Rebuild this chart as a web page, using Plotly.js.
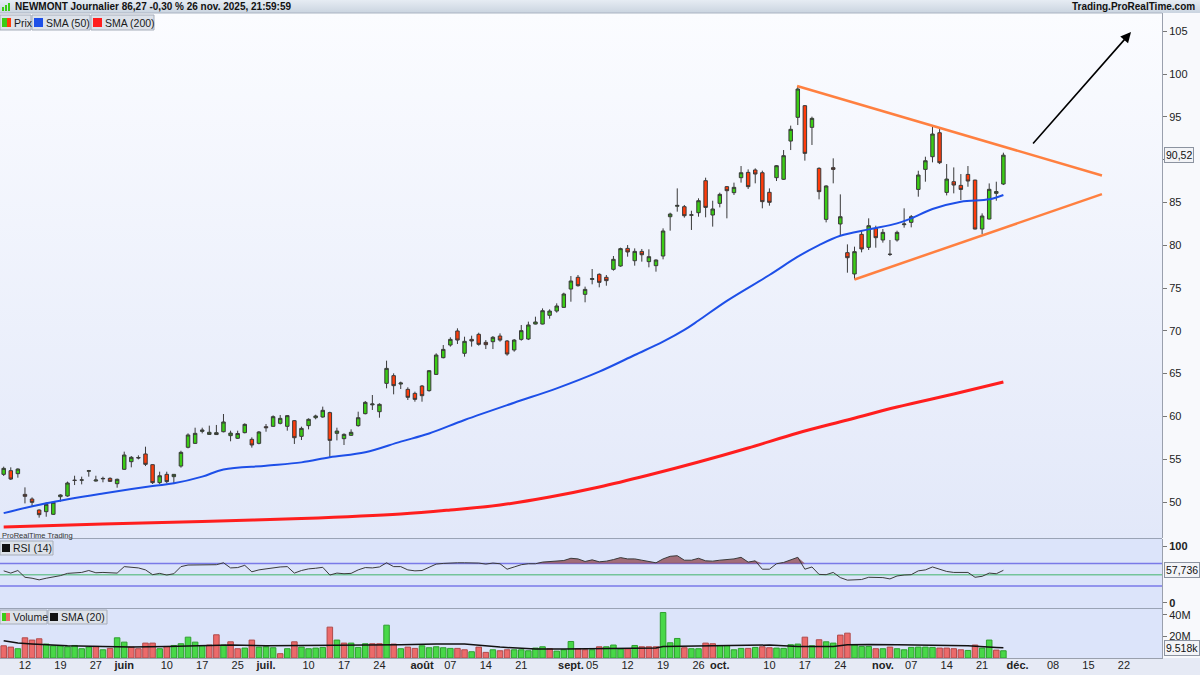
<!DOCTYPE html>
<html><head><meta charset="utf-8">
<script src="https://cdn.plot.ly/plotly-3.0.1.min.js"></script>
<style>
body{margin:0;background:#fff}
#wrap{position:relative;width:1200px;height:675px;overflow:hidden;background:#f8f9fc}
.bg{position:absolute}
#chart{position:absolute;left:0;top:0;width:1200px;height:675px}
</style></head>
<body><div id="wrap">
<div class="bg" style="left:0;top:0;width:1200px;height:13px;background:linear-gradient(#e6ecf3,#cad4e0)"></div>
<div class="bg" style="left:0;top:13px;width:1162px;height:526px;background:linear-gradient(#fbfcff,#e2e8f9)"></div>
<div class="bg" style="left:0;top:539px;width:1162px;height:119px;background:#dce4fa"></div>
<div class="bg" style="left:0;top:658px;width:1200px;height:17px;background:#e6eaf5"></div>
<div id="chart"></div>
</div>
<script>
// ---------- DATA ----------
const firstDay = '2025-05-07';
const lastDay = '2025-12-31';
const holidays = ['2025-05-26','2025-06-19','2025-07-04','2025-09-01','2025-11-27','2025-12-25'];

const open = [53.23,53.66,53.31,50.89,50.35,49.06,48.87,48.56,50.62,50.70,
52.55,52.55,53.60,52.45,52.70,52.76,52.14,53.82,54.71,55.20,
55.61,54.36,52.26,53.23,52.96,54.20,56.39,56.85,58.25,57.90,
57.88,58.21,57.75,57.44,58.10,57.32,56.85,58.80,58.84,59.19,
58.84,59.50,57.67,58.92,59.85,59.93,60.44,58.02,57.40,57.79,
58.92,60.32,61.35,60.55,63.86,64.76,63.78,63.16,62.69,63.55,
63.01,64.91,66.86,68.34,69.98,67.37,69.00,69.59,68.65,68.73,
69.39,68.81,67.76,69.00,69.04,70.79,70.79,71.81,72.31,72.74,
74.88,76.25,74.26,76.00,76.60,76.25,77.18,77.57,79.63,78.19,
79.28,78.08,77.61,78.74,83.33,84.55,84.50,83.50,83.80,87.54,
83.53,84.89,86.84,86.14,87.89,88.51,88.79,88.47,86.18,87.89,
87.70,92.17,94.94,96.30,93.77,88.98,83.02,89.06,82.48,79.13,
76.64,81.27,79.75,81.97,80.61,78.95,80.61,82.40,82.67,86.52,
88.86,90.34,93.14,86.17,87.42,86.99,88.27,87.61,81.89,83.06,
86.06,87.15];
const high = [54.13,54.05,53.93,51.71,50.54,49.14,49.96,50.04,50.90,52.38,
53.07,52.96,53.74,53.07,52.96,52.88,52.73,55.88,55.37,55.45,
56.46,54.40,53.54,53.54,53.27,55.99,58.02,58.68,58.68,58.92,
59.00,60.28,58.33,58.33,59.19,57.55,58.29,59.11,60.12,60.16,
60.16,59.58,58.80,59.77,60.20,61.14,60.55,58.68,58.02,58.49,
60.55,61.80,62.50,61.53,66.51,65.03,64.06,63.40,62.89,63.67,
65.42,67.37,68.34,69.24,70.29,69.31,69.43,69.78,68.92,69.39,
69.70,68.92,69.04,70.68,71.07,71.65,72.62,72.51,73.21,74.45,
76.40,76.52,75.16,77.22,76.71,76.52,78.74,79.71,80.02,79.63,
79.56,79.52,78.35,81.97,83.80,86.64,84.70,84.03,85.48,87.89,
85.20,86.14,86.92,87.31,89.25,88.86,88.98,88.71,86.64,89.37,
91.12,93.97,98.60,96.38,95.02,89.10,87.00,90.15,85.94,80.10,
79.83,81.70,83.14,82.28,81.89,80.61,81.70,84.31,83.53,88.70,
90.34,93.84,93.65,89.48,89.09,88.31,89.25,87.65,83.72,87.22,
87.42,90.81];
const low = [53.04,52.57,52.84,49.84,49.53,48.17,48.28,48.48,50.04,50.62,
51.98,52.06,52.96,52.38,52.30,52.34,51.67,53.74,54.05,54.98,
54.20,52.10,52.10,52.18,52.18,54.01,56.27,56.78,58.02,57.83,
57.83,58.14,57.09,57.36,58.02,56.35,56.74,58.21,58.80,59.07,
58.33,56.78,57.24,58.49,59.66,59.85,55.22,57.20,56.66,57.71,
58.80,60.24,60.75,59.85,63.28,62.58,63.20,61.92,61.72,61.72,
62.89,64.84,66.78,68.15,68.46,66.98,68.15,68.26,67.87,67.87,
68.73,67.09,67.56,68.85,68.92,70.75,70.75,71.42,72.12,72.70,
73.40,75.16,73.33,75.43,75.08,75.27,77.03,77.49,78.66,77.61,
78.08,77.42,76.91,78.35,81.70,83.92,83.22,81.78,83.33,83.26,
82.17,84.42,83.14,85.87,87.31,86.57,87.23,84.31,84.62,87.50,
87.62,91.12,94.04,89.88,91.71,85.36,82.67,87.23,81.11,76.79,
76.01,79.17,79.44,79.71,80.30,78.74,80.42,82.05,82.09,85.67,
87.42,89.68,89.48,85.82,86.06,85.28,86.83,81.85,81.30,83.02,
85.20,87.03];
const close = [53.93,52.68,53.85,50.66,49.96,48.52,49.73,49.96,50.82,52.22,
52.52,52.58,53.65,52.57,52.75,52.41,52.65,55.49,55.22,55.15,
54.40,52.26,53.07,52.38,53.23,55.80,57.83,58.02,58.41,58.14,
58.10,59.35,58.05,58.00,59.07,56.66,58.18,58.68,59.97,59.77,
60.09,57.51,58.60,59.66,60.05,60.71,57.20,58.29,57.90,58.14,
59.85,61.64,61.45,61.41,65.61,63.59,63.90,62.23,61.99,62.42,
65.34,67.17,67.83,69.00,68.92,68.77,68.81,68.42,68.38,69.24,
68.92,67.29,68.92,70.02,70.68,71.03,72.35,72.31,72.90,74.30,
75.82,75.27,74.84,76.10,75.66,75.86,78.35,79.60,79.21,79.28,
78.89,78.66,78.27,81.66,83.64,84.65,83.45,83.55,85.20,84.42,
84.23,85.94,86.37,86.76,88.47,86.84,88.32,85.09,85.01,89.29,
90.46,93.54,98.25,90.73,94.82,86.26,86.92,88.86,83.33,78.54,
79.25,79.56,82.28,80.88,81.50,78.93,81.50,82.48,83.33,88.20,
89.87,92.99,89.64,87.73,87.03,86.52,87.50,81.89,83.41,86.53,
86.27,90.52];
const closeBeforeFirst = 54.30;
// volume in millions
const volume = [11.3,10.1,8.6,18.7,16.6,17.8,12.9,11.3,11.3,10.4,
11.6,8.6,10.1,10.7,7.6,8.9,18.7,14.7,10.1,8.6,
13.8,13.8,8.6,10.7,11.6,13.2,19.3,14.7,11.6,12.0,
21.5,12.0,15.0,8.6,9.2,16.6,10.1,10.4,9.5,4.0,
8.6,15.0,10.1,8.6,9.2,9.8,28.6,16.6,13.8,13.8,
9.8,13.2,13.2,13.2,30.4,12.9,8.6,10.1,8.9,11.3,
9.5,10.4,9.5,8.9,8.9,7.6,5.8,10.1,5.2,7.6,
6.7,7.6,7.6,7.6,6.7,9.2,10.4,8.6,6.4,7.6,
15.3,8.6,7.6,7.6,10.4,10.4,12.0,8.3,8.6,11.6,
10.4,10.4,10.4,42.1,14.1,18.1,9.5,8.6,8.6,13.8,
13.2,11.6,11.6,7.6,8.9,8.9,9.8,10.4,9.5,9.2,
8.9,12.3,12.9,19.3,11.3,16.9,15.0,13.8,21.2,23.0,
12.3,10.7,10.7,8.6,8.6,10.1,8.6,7.6,9.8,10.1,
10.1,9.8,9.2,9.2,8.6,7.6,7.0,12.0,9.2,16.6,
7.3,6.7];
const rsi = [56.8,52.8,57.4,45.4,43.7,40.8,43.7,45.4,48.3,52.3,
53.4,54.0,57.4,53.4,54.0,53.4,52.8,64.3,62.6,62.0,
58.5,50.0,52.3,49.4,51.7,64.3,67.1,67.1,67.7,67.1,
67.7,71.1,62.0,62.6,66.6,55.1,58.5,60.3,62.6,63.7,
64.3,52.8,57.4,60.3,61.4,63.1,49.4,52.8,51.7,52.3,
58.5,62.6,62.0,63.7,71.1,64.3,64.3,58.5,56.8,57.4,
63.1,68.8,70.0,71.1,71.1,71.1,71.1,70.6,68.8,70.6,
69.4,59.7,63.7,67.7,69.4,69.4,72.3,73.4,74.0,75.1,
79.1,78.0,73.4,76.3,72.8,74.0,76.8,80.3,78.0,78.0,
75.7,74.0,71.1,78.0,82.6,83.7,75.7,75.7,79.1,74.6,
74.0,75.7,76.3,78.0,80.8,72.3,74.6,59.7,59.7,69.4,
71.7,75.7,80.8,59.7,63.7,50.5,50.0,54.0,44.8,40.3,
40.8,41.4,45.4,44.8,44.8,42.5,47.7,49.4,50.0,56.8,
58.5,63.7,59.7,55.7,54.0,53.4,54.0,45.4,47.1,52.8,
51.7,57.7];
// moving averages (bar index, value)
const sma50Idx = [0,6,14,21,24,28,31,37,42,46,51,56,60,65,72,78,84,89,93,96,98,102,108,112,115,118,122,126,128,131,135,139,141];
const sma50Val = [48.7,49.85,51.0,51.87,52.18,52.96,53.8,54.24,54.63,55.22,55.8,57.05,58.0,59.58,61.6,63.28,65.23,67.17,68.73,70.1,71.2,73.5,76.52,78.66,80.02,81.11,81.85,82.55,83.14,84.23,85.09,85.36,85.87];
const sma200Idx = [0,14,28,42,56,63,70,77,84,91,98,105,112,119,126,134,141];
const sma200Val = [47.08,47.43,47.72,48.07,48.6,49.07,49.65,50.58,51.75,53.15,54.67,56.31,58.06,59.58,61.1,62.62,64.02];
const volSmaIdx = [0,2,4,7,9,14,18,23,28,32,37,42,47,51,56,61,65,70,75,79,84,89,92,93,98,103,108,112,117,119,122,126,131,136,140,141];
const volSmaVal = [15.9,13.8,12.9,11.6,11.3,10.7,10.1,10.7,11.3,12.0,11.3,11.6,11.6,11.6,12.2,12.9,12.9,10.1,8.3,8.3,8.9,9.2,9.2,10.7,11.3,11.3,12.0,10.7,10.7,12.3,12.6,12.3,12.0,11.3,9.8,9.5];
// triangle trend lines and arrow (bar index, price)
const upperLineIdx = [111.9,154.9], upperLineVal = [98.6,88.15];
const lowerLineIdx = [120.0,154.9], lowerLineVal = [76.0,85.97];
const arrowFrom = [145.0,91.7], arrowTo = [159.0,104.9];
// x-axis ticks
const tickDates = ['2025-05-12','2025-05-19','2025-05-27','2025-06-02','2025-06-10','2025-06-17','2025-06-25','2025-07-01','2025-07-10','2025-07-17','2025-07-24','2025-08-01','2025-08-07','2025-08-14','2025-08-21','2025-09-02','2025-09-05','2025-09-12','2025-09-19','2025-09-26','2025-10-01','2025-10-10','2025-10-17','2025-10-24','2025-11-03','2025-11-07','2025-11-14','2025-11-21','2025-12-01','2025-12-08','2025-12-15','2025-12-22'];
const tickLabels = ['12','19','27','<b>juin</b>','10','17','25','<b>juil.</b>','10','17','24','<b>août</b>','07','14','21','<b>sept.</b>','05','12','19','26','<b>oct.</b>','10','17','24','<b>nov.</b>','07','14','21','<b>déc.</b>','08','15','22'];
const priceTicks = [50,55,60,65,70,75,80,85,90,95,100,105];

// ---------- BUILD ----------
const tradingDays = [];
for (let d = new Date(firstDay+'T00:00:00Z'); d <= new Date(lastDay+'T00:00:00Z'); d.setUTCDate(d.getUTCDate()+1)) {
  const s = d.toISOString().slice(0,10), wd = d.getUTCDay();
  if (wd !== 0 && wd !== 6 && holidays.indexOf(s) < 0) tradingDays.push(s);
}
const idx = open.map((_, i) => i);
const tickVals = tickDates.map(s => tradingDays.indexOf(s));
const volUp = close.map((c, i) => c >= (i === 0 ? closeBeforeFirst : close[i-1]));
const volColor = volUp.map(u => u ? '#48d848' : '#ec6a6a');
const volLine = volUp.map(u => u ? '#2f9f2f' : '#b04a4a');
const rsiTop = rsi.map(v => Math.max(v, 70));
const rsiBase = rsi.map(() => 70);
const lastClose = close[close.length-1];
// the last-price tag covers the nearest price tick label, as in the original
const priceTickText = priceTicks.map(v => Math.abs(v - lastClose) < 2 ? '' : String(v));

const W = 1162, PB = 658, PH = 645;
const P = x => x / W, Q = y => (PB - y) / PH;
const FONT = '"Liberation Sans", Arial, sans-serif';

const traces = [
  {type:'scatter', mode:'lines', x:sma200Idx, y:sma200Val, line:{color:'#ff1e1e', width:3, shape:'spline'}, hoverinfo:'skip'},
  {type:'scatter', mode:'lines', x:sma50Idx, y:sma50Val, line:{color:'#1d4fe8', width:2, shape:'spline'}, hoverinfo:'skip'},
  {type:'candlestick', x:idx, open:open, high:high, low:low, close:close,
   increasing:{fillcolor:'#3acc14', line:{color:'#3a3a3a', width:1}},
   decreasing:{fillcolor:'#ff3c0a', line:{color:'#3a3a3a', width:1}},
   whiskerwidth:0, hoverinfo:'skip'},
  {type:'scatter', mode:'lines', x:upperLineIdx, y:upperLineVal, line:{color:'#ff8040', width:2.5}, hoverinfo:'skip'},
  {type:'scatter', mode:'lines', x:lowerLineIdx, y:lowerLineVal, line:{color:'#ff8040', width:2.5}, hoverinfo:'skip'},
  {type:'scatter', mode:'lines', x:idx, y:rsiBase, yaxis:'y2', line:{width:0, color:'rgba(0,0,0,0)'}, hoverinfo:'skip'},
  {type:'scatter', mode:'lines', x:idx, y:rsiTop, yaxis:'y2', fill:'tonexty', fillcolor:'rgba(140,62,70,0.72)', line:{width:0, color:'rgba(0,0,0,0)'}, hoverinfo:'skip'},
  {type:'scatter', mode:'lines', x:idx, y:rsi, yaxis:'y2', line:{color:'#3a3a3a', width:1}, hoverinfo:'skip'},
  {type:'bar', x:idx, y:volume, yaxis:'y3', width:0.78, marker:{color:volColor, line:{color:volLine, width:1}}, hoverinfo:'skip'},
  {type:'scatter', mode:'lines', x:volSmaIdx, y:volSmaVal, yaxis:'y3', line:{color:'#111', width:1.5}, hoverinfo:'skip'}
];

function rect(x0,y0,x1,y1,fill,line){
  return {type:'rect', xref:'paper', yref:'paper', x0:P(x0), x1:P(x1), y0:Q(y1), y1:Q(y0), fillcolor:fill, line:{color:line||fill, width:line?1:0}, layer:'above'};
}
function hline(y, color){ return {type:'line', xref:'paper', yref:'paper', x0:0, x1:1, y0:Q(y), y1:Q(y), line:{color:color, width:1}}; }
function rsiLevel(v, color){ return {type:'line', xref:'paper', yref:'y2', x0:0, x1:1, y0:v, y1:v, line:{color:color, width:1.5}, layer:'below'}; }

const shapes = [
  hline(538.5,'#9aa3b5'), hline(608.5,'#9aa3b5'), hline(13,'#aab3c2'),
  rsiLevel(70,'#7a7ae8'), rsiLevel(30,'#7a7ae8'), rsiLevel(50,'#74c49a'),
  // header icon
  rect(2,7,4,11,'#3acc14'), rect(5,5,7,11,'#3acc14'), rect(8,3,10,11,'#3acc14'),
  // legend boxes
  rect(0,15,31,30,'#dde2ea','#a6adba'), rect(2,18,7,27,'#3acc14'), rect(7,18,11,27,'#ff3c0a'),
  rect(32,15,90,30,'#dde2ea','#a6adba'), rect(34,18,43,27,'#1d4fe8'),
  rect(91,15,154,30,'#dde2ea','#a6adba'), rect(93,18,102,27,'#ff1e1e'),
  rect(0,541,53,555,'#dde2ea','#a6adba'), rect(2,544,10,552,'#111111'),
  rect(0,610,47,624,'#dde2ea','#a6adba'), rect(2,613,6,621,'#3acc14'), rect(6,613,10,621,'#ec6a6a'),
  rect(48,610,107,624,'#dde2ea','#a6adba'), rect(50,613,58,621,'#111111')
];

function txt(text, x, y, opts){
  return Object.assign({text:text, xref:'paper', yref:'paper', x:P(x), y:Q(y), xanchor:'left', yanchor:'middle', showarrow:false, borderpad:0, font:{family:FONT, size:10.5, color:'#1a1a1a'}}, opts||{});
}
function valueTag(text, yref, y){
  return {text:text, xref:'paper', yref:yref, x:P(1164), y:y, xanchor:'left', yanchor:'middle', showarrow:false,
    bgcolor:'#f3f4f7', bordercolor:'#8c93a0', borderwidth:1, borderpad:1, font:{family:FONT, size:10.5, color:'#111'}};
}
const annotations = [
  txt('<b>NEWMONT Journalier 86,27 -0,30 % 26 nov. 2025, 21:59:59</b>', 14, 6.5, {font:{family:FONT, size:10, color:'#111'}}),
  txt('<b>Trading.ProRealTime.com</b>', 1196, 6.5, {xanchor:'right', font:{family:FONT, size:10, color:'#111'}}),
  txt('Prix', 12.5, 22.5), txt('SMA (50)', 44.5, 22.5), txt('SMA (200)', 103.5, 22.5),
  txt('ProRealTime Trading', 1, 535.5, {font:{family:FONT, size:7.5, color:'#333'}}),
  txt('RSI (14)', 12, 548), txt('Volume', 11.5, 617), txt('SMA (20)', 60, 617),
  valueTag('90,52', 'y', lastClose),
  valueTag('57,736', 'y2', rsi[rsi.length-1]),
  valueTag('9.518k', 'y3', volSmaVal[volSmaVal.length-1]),
  {x:arrowTo[0], y:arrowTo[1], xref:'x', yref:'y', ax:arrowFrom[0], ay:arrowFrom[1], axref:'x', ayref:'y',
   text:'', showarrow:true, arrowhead:2, arrowsize:1.3, arrowwidth:1.6, arrowcolor:'#000'}
];

const axisCommon = {showgrid:false, zeroline:false, showline:true, linecolor:'#9aa0ad', side:'right', anchor:'x',
  ticks:'outside', ticklen:4, tickcolor:'#777', tickfont:{family:FONT, size:11, color:'#222'}, fixedrange:true};

const layout = {
  width:1200, height:675, margin:{l:0, r:38, t:13, b:17, pad:0},
  paper_bgcolor:'rgba(0,0,0,0)', plot_bgcolor:'rgba(0,0,0,0)', showlegend:false,
  font:{family:FONT, size:11, color:'#222'},
  xaxis:{range:[-0.52,163.37], showgrid:false, zeroline:false, showline:true, linecolor:'#9aa0ad', anchor:'y3',
    tickmode:'array', tickvals:tickVals, ticktext:tickLabels, ticks:'', ticklabelstandoff:-3,
    tickfont:{family:FONT, size:11, color:'#222'}, rangeslider:{visible:false}, fixedrange:true},
  yaxis:Object.assign({}, axisCommon, {domain:[0.186,1], range:[45.79,107.13], tickmode:'array', tickvals:priceTicks, ticktext:priceTickText}),
  yaxis2:Object.assign({}, axisCommon, {domain:[0.077,0.1845], range:[-9.7,113.3], tickmode:'array', tickvals:[0,100], ticktext:['<b>0</b>','<b>100</b>']}),
  yaxis3:Object.assign({}, axisCommon, {domain:[0,0.077], range:[0,46], tickmode:'array', tickvals:[20,40], ticktext:['20M','40M']}),
  bargap:0.2, shapes:shapes, annotations:annotations
};

Plotly.newPlot('chart', traces, layout, {staticPlot:true, displayModeBar:false});
</script>
</body></html>
